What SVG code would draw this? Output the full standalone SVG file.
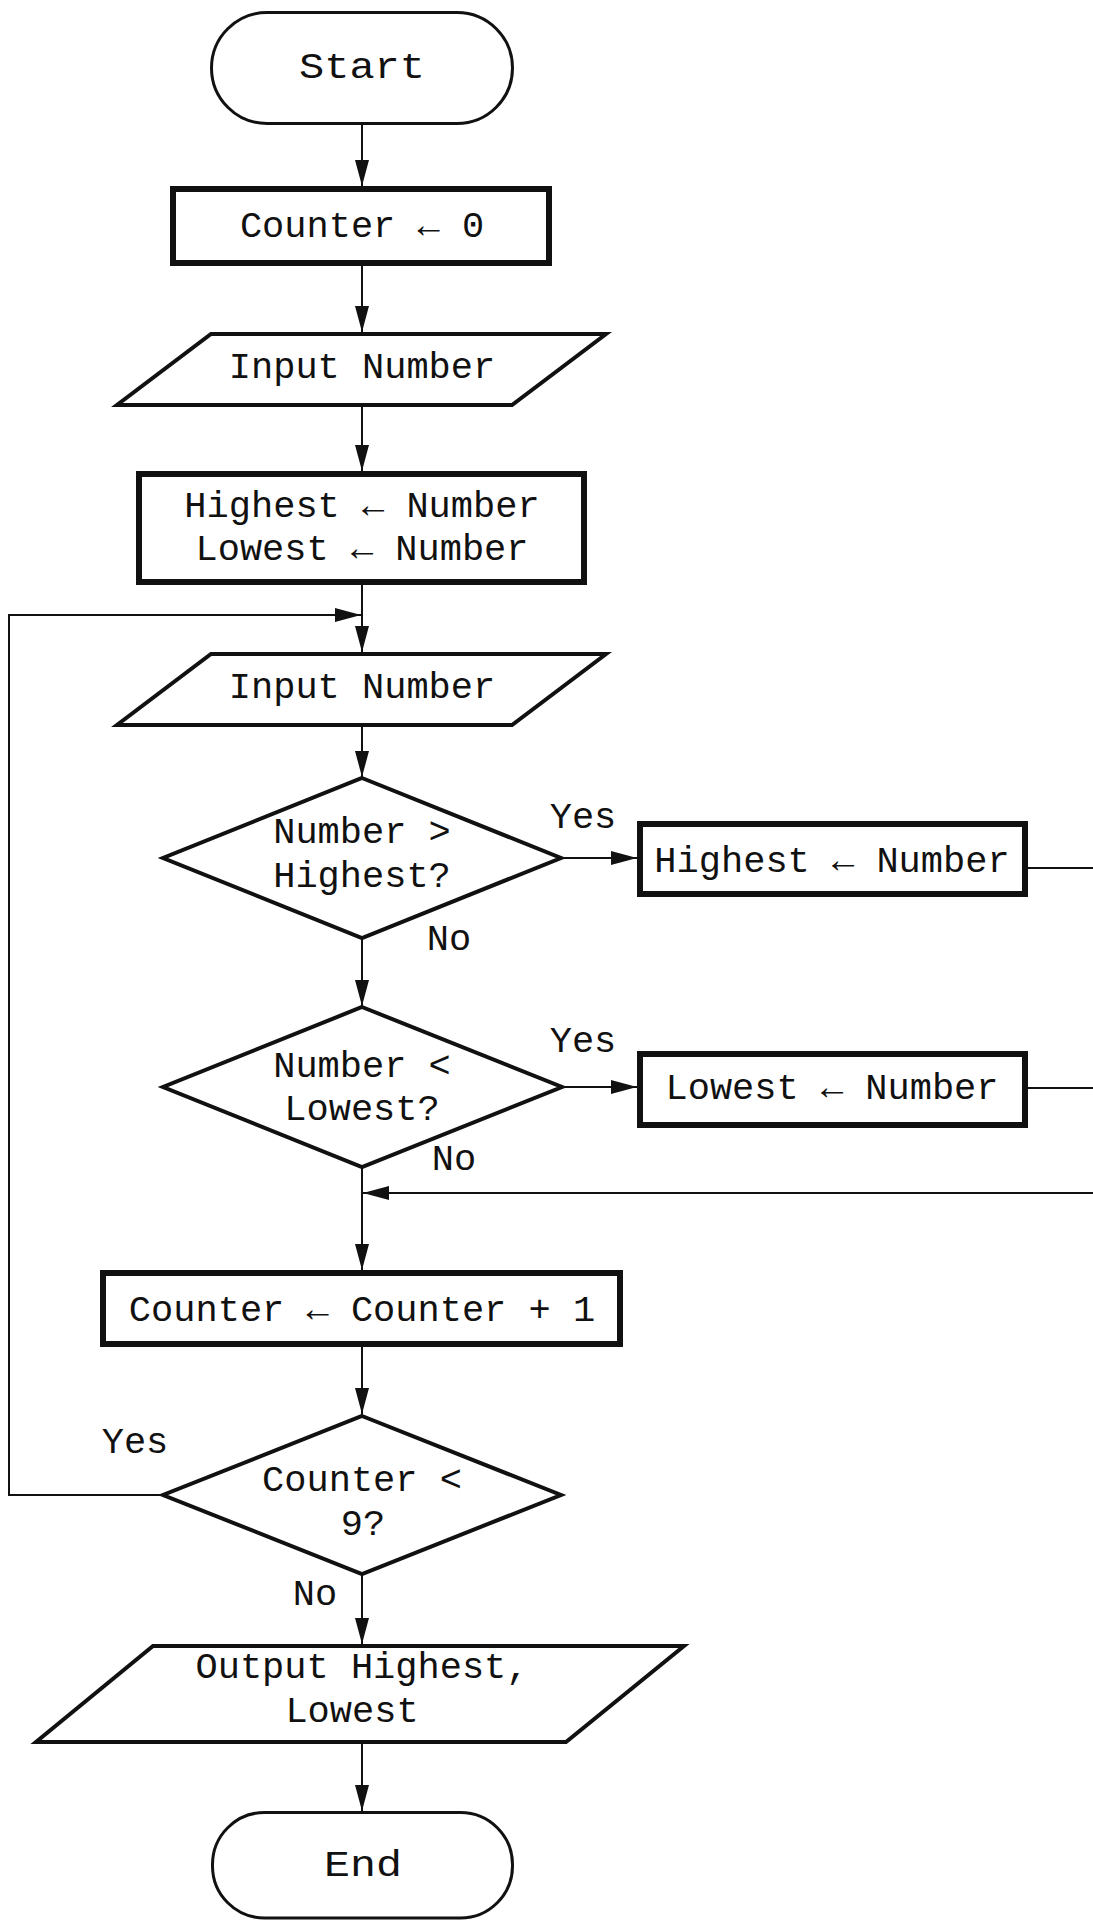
<svg xmlns="http://www.w3.org/2000/svg" width="1093" height="1921" viewBox="0 0 1093 1921">
  <style>
    .bg { fill: #ffffff; }
    .term { fill: #ffffff; stroke: #111; stroke-width: 3; }
    .proc { fill: #ffffff; stroke: #111; stroke-width: 6; }
    .io { fill: #ffffff; stroke: #111; stroke-width: 4; stroke-linejoin: miter; }
    .dec { fill: #ffffff; stroke: #111; stroke-width: 4; stroke-linejoin: miter; }
    .conn { fill: none; stroke: #111; stroke-width: 2; }
    .t { font-family: "Liberation Mono", "DejaVu Sans Mono", monospace; font-size: 37px; fill: #111; text-anchor: middle; }
  </style>
  <defs>
    <marker id="ah" markerUnits="userSpaceOnUse" markerWidth="26" markerHeight="14" refX="26" refY="7" orient="auto">
      <path d="M0,0 L26,7 L0,14 Z" fill="#111"/>
    </marker>
  </defs>
  <rect class="bg" x="0" y="0" width="1093" height="1921"/>

  <g id="connectors">
    <line class="conn" x1="362" y1="125" x2="362" y2="186" marker-end="url(#ah)"/>
    <line class="conn" x1="362" y1="266" x2="362" y2="332" marker-end="url(#ah)"/>
    <line class="conn" x1="362" y1="407" x2="362" y2="471" marker-end="url(#ah)"/>
    <line class="conn" x1="362" y1="585" x2="362" y2="652" marker-end="url(#ah)"/>
    <polyline class="conn" points="163,1495 9,1495 9,615 361,615" marker-end="url(#ah)"/>
    <line class="conn" x1="362" y1="727" x2="362" y2="777" marker-end="url(#ah)"/>
    <line class="conn" x1="561" y1="858" x2="637" y2="858" marker-end="url(#ah)"/>
    <line class="conn" x1="1028" y1="868" x2="1093" y2="868"/>
    <line class="conn" x1="362" y1="938" x2="362" y2="1006" marker-end="url(#ah)"/>
    <line class="conn" x1="562" y1="1087" x2="637" y2="1087" marker-end="url(#ah)"/>
    <line class="conn" x1="1028" y1="1088" x2="1093" y2="1088"/>
    <line class="conn" x1="1093" y1="1193" x2="363" y2="1193" marker-end="url(#ah)"/>
    <line class="conn" x1="362" y1="1167" x2="362" y2="1270" marker-end="url(#ah)"/>
    <line class="conn" x1="362" y1="1347" x2="362" y2="1414" marker-end="url(#ah)"/>
    <line class="conn" x1="362" y1="1574" x2="362" y2="1644" marker-end="url(#ah)"/>
    <line class="conn" x1="362" y1="1744" x2="362" y2="1811" marker-end="url(#ah)"/>
  </g>

  <g id="start">
    <rect class="term" x="211.5" y="12.5" width="301" height="111" rx="55.5" ry="55.5"/>
    <text class="t" x="362" y="78" textLength="126" lengthAdjust="spacingAndGlyphs">Start</text>
  </g>

  <g id="counter-init">
    <rect class="proc" x="173" y="189" width="376" height="74"/>
    <text class="t" x="362" y="237">Counter ← 0</text>
  </g>

  <g id="input1">
    <polygon class="io" points="211,334 606,334 512,405 117,405"/>
    <text class="t" x="362" y="378">Input Number</text>
  </g>

  <g id="init-high-low">
    <rect class="proc" x="139" y="474" width="445" height="108"/>
    <text class="t" x="362" y="517">Highest ← Number</text>
    <text class="t" x="362" y="560">Lowest ← Number</text>
  </g>

  <g id="input2">
    <polygon class="io" points="211,654 606,654 512,725 117,725"/>
    <text class="t" x="362" y="698">Input Number</text>
  </g>

  <g id="dec-highest">
    <polygon class="dec" points="362,778 561,858 362,938 163,858"/>
    <text class="t" x="362" y="843">Number &gt;</text>
    <text class="t" x="362" y="887">Highest?</text>
    <text class="t" x="583" y="828">Yes</text>
    <text class="t" x="449" y="950">No</text>
  </g>

  <g id="set-highest">
    <rect class="proc" x="640" y="824" width="385" height="70"/>
    <text class="t" x="832" y="872">Highest ← Number</text>
  </g>

  <g id="dec-lowest">
    <polygon class="dec" points="362,1007 562,1087 362,1167 163,1087"/>
    <text class="t" x="362" y="1077">Number &lt;</text>
    <text class="t" x="362" y="1120">Lowest?</text>
    <text class="t" x="583" y="1052">Yes</text>
    <text class="t" x="454" y="1170">No</text>
  </g>

  <g id="set-lowest">
    <rect class="proc" x="640" y="1054" width="385" height="71"/>
    <text class="t" x="832" y="1099">Lowest ← Number</text>
  </g>

  <g id="counter-inc">
    <rect class="proc" x="103" y="1273" width="517" height="71"/>
    <text class="t" x="362" y="1321">Counter ← Counter + 1</text>
  </g>

  <g id="dec-counter">
    <polygon class="dec" points="362,1416 561,1495 362,1574 163,1495"/>
    <text class="t" x="362" y="1491">Counter &lt;</text>
    <text class="t" x="363" y="1535">9?</text>
    <text class="t" x="135" y="1453">Yes</text>
    <text class="t" x="315" y="1605">No</text>
  </g>

  <g id="output">
    <polygon class="io" points="153,1646 684,1646 566,1742 36,1742"/>
    <text class="t" x="362" y="1678">Output Highest,</text>
    <text class="t" x="352" y="1722">Lowest</text>
  </g>

  <g id="end">
    <rect class="term" x="212.5" y="1812.5" width="300" height="105.5" rx="52" ry="52"/>
    <text class="t" x="363" y="1876" textLength="78" lengthAdjust="spacingAndGlyphs">End</text>
  </g>
</svg>
